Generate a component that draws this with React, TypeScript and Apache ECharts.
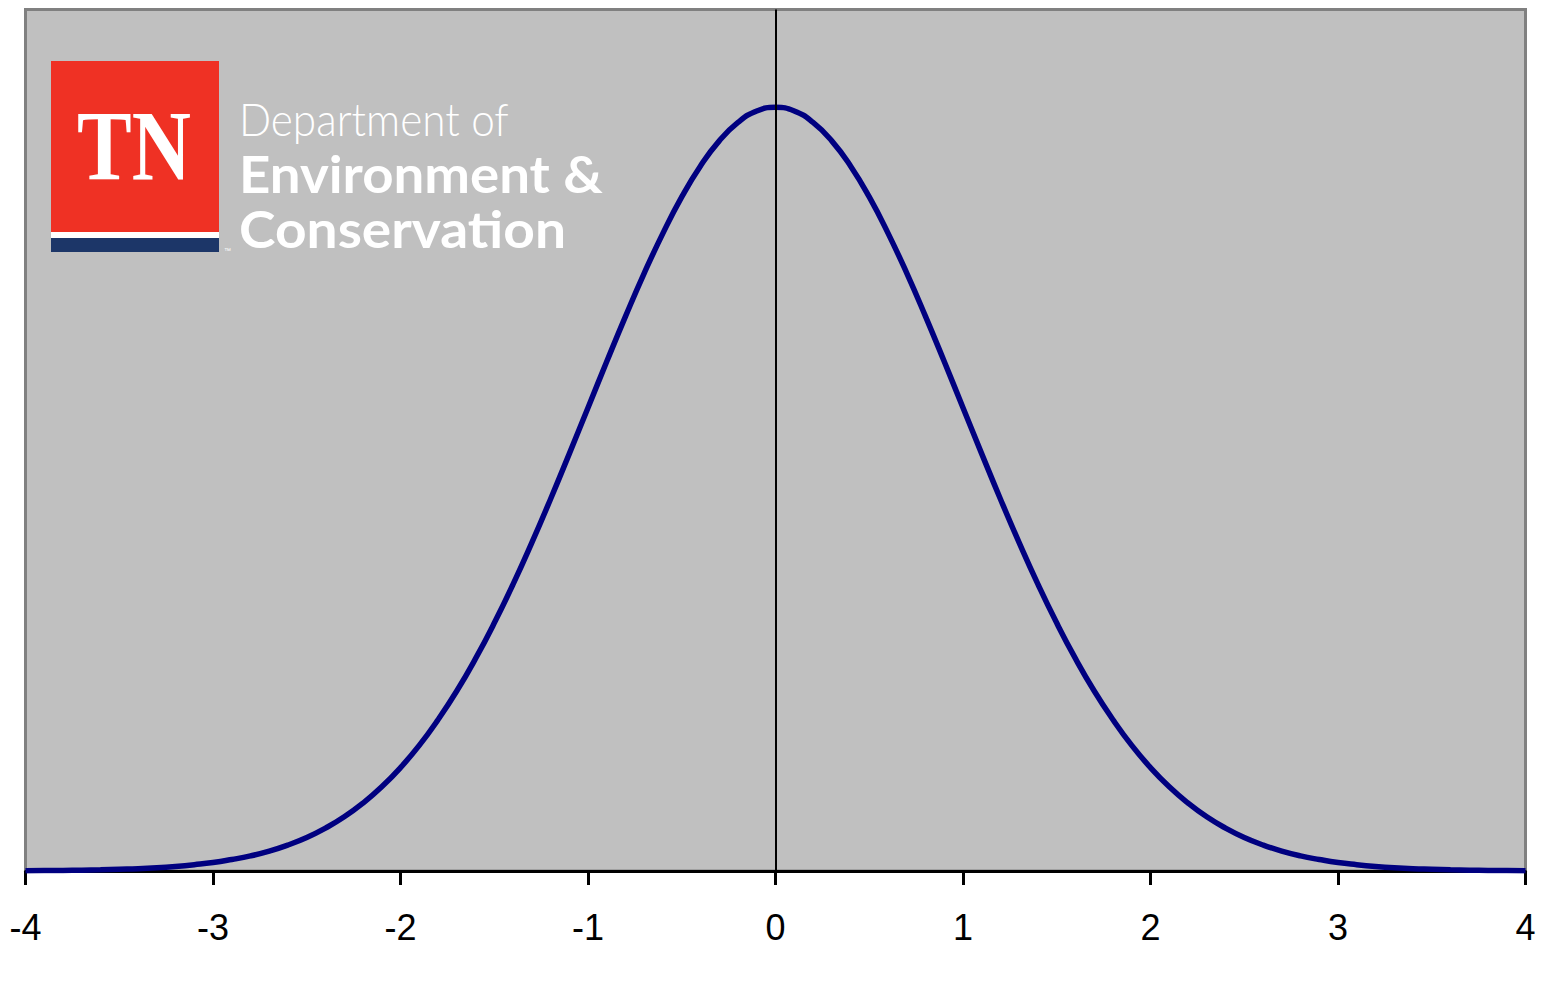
import React, { useEffect, useRef } from "react";
import * as echarts from "echarts";

const xValues = [
  -4.0, -3.9, -3.8, -3.7, -3.6, -3.5, -3.4, -3.3, -3.2, -3.1,
  -3.0, -2.9, -2.8, -2.7, -2.6, -2.5, -2.4, -2.3, -2.2, -2.1,
  -2.0, -1.9, -1.8, -1.7, -1.6, -1.5, -1.4, -1.3, -1.2, -1.1,
  -1.0, -0.9, -0.8, -0.7, -0.6, -0.5, -0.4, -0.3, -0.2, -0.1,
  0.0, 0.1, 0.2, 0.3, 0.4, 0.5, 0.6, 0.7, 0.8, 0.9,
  1.0, 1.1, 1.2, 1.3, 1.4, 1.5, 1.6, 1.7, 1.8, 1.9,
  2.0, 2.1, 2.2, 2.3, 2.4, 2.5, 2.6, 2.7, 2.8, 2.9,
  3.0, 3.1, 3.2, 3.3, 3.4, 3.5, 3.6, 3.7, 3.8, 3.9, 4.0,
];

const densityValues = [
  0.0001, 0.0002, 0.0003, 0.0004, 0.0006, 0.0009, 0.0012, 0.0017, 0.0024, 0.0033,
  0.0044, 0.006, 0.0079, 0.0104, 0.0136, 0.0175, 0.0224, 0.0283, 0.0355, 0.044,
  0.054, 0.0656, 0.079, 0.094, 0.1109, 0.1295, 0.1497, 0.1714, 0.1942, 0.2179,
  0.242, 0.2661, 0.2897, 0.3123, 0.3332, 0.3521, 0.3683, 0.3814, 0.391, 0.397,
  0.3989, 0.397, 0.391, 0.3814, 0.3683, 0.3521, 0.3332, 0.3123, 0.2897, 0.2661,
  0.242, 0.2179, 0.1942, 0.1714, 0.1497, 0.1295, 0.1109, 0.094, 0.079, 0.0656,
  0.054, 0.044, 0.0355, 0.0283, 0.0224, 0.0175, 0.0136, 0.0104, 0.0079, 0.006,
  0.0044, 0.0033, 0.0024, 0.0017, 0.0012, 0.0009, 0.0006, 0.0004, 0.0003, 0.0002, 0.0001,
];

const xTicks = { min: -4, max: 4, step: 1 };
const logoLines = ["Department of", "Environment &", "Conservation"];

export default function App() {
  const ref = useRef<HTMLDivElement>(null);

  useEffect(() => {
    if (!ref.current) return;
    const chart = echarts.init(ref.current, null, { renderer: "svg" });
    const data = xValues.map((x, i) => [x, densityValues[i]]);
    chart.setOption({
      animation: false,
      grid: {
        left: 25.5,
        right: 25.5,
        top: 9.5,
        bottom: 123,
        show: true,
        backgroundColor: "#c0c0c0",
        borderColor: "#808080",
        borderWidth: 3,
      },
      xAxis: {
        type: "value",
        min: xTicks.min,
        max: xTicks.max,
        interval: xTicks.step,
        splitLine: { show: false },
        axisLine: { show: true, onZero: false, lineStyle: { color: "#000", width: 3 } },
        axisTick: { show: true, length: 14, lineStyle: { color: "#000", width: 3 } },
        axisLabel: {
          color: "#000",
          fontSize: 36,
          fontFamily: "Liberation Sans, Arial, sans-serif",
          margin: 38,
        },
      },
      yAxis: {
        type: "value",
        min: 0,
        max: 0.45,
        show: false,
        splitLine: { show: false },
      },
      series: [
        {
          type: "line",
          data,
          smooth: true,
          showSymbol: false,
          symbol: "none",
          lineStyle: { color: "#000080", width: 5.5 },
          z: 2,
        },
        {
          type: "line",
          data: [],
          z: 5,
          markLine: {
            silent: true,
            symbol: ["none", "none"],
            label: { show: false },
            lineStyle: { color: "#000", width: 2, type: "solid" },
            data: [{ xAxis: 0 }],
            z: 5,
          },
        },
      ],
      graphic: [
        { type: "rect", shape: { x: 51, y: 61, width: 168, height: 171 }, style: { fill: "#ef3124" }, z: 10 },
        { type: "rect", shape: { x: 51, y: 232, width: 168, height: 6 }, style: { fill: "#ffffff" }, z: 10 },
        { type: "rect", shape: { x: 51, y: 238, width: 168, height: 14 }, style: { fill: "#1c3668" }, z: 10 },
        {
          type: "text",
          x: 134,
          y: 146,
          scaleX: 0.82,
          z: 11,
          style: {
            text: "TN",
            fill: "#fff",
            font: "bold 100px 'Liberation Serif', serif",
            align: "center",
            verticalAlign: "middle",
          },
        },
        {
          type: "text",
          x: 224,
          y: 250,
          z: 11,
          style: { text: "™", fill: "#fff", font: "7px sans-serif", align: "left", verticalAlign: "middle" },
        },
        {
          type: "text",
          x: 239,
          y: 118,
          scaleX: 0.94,
          z: 11,
          style: {
            text: logoLines[0],
            fill: "#fff",
            font: "300 45px Lato, sans-serif",
            lineHeight: 40,
            align: "left",
            verticalAlign: "middle",
          },
        },
        {
          type: "text",
          x: 239,
          y: 173,
          scaleX: 1.05,
          z: 11,
          style: {
            text: logoLines[1],
            fill: "#fff",
            font: "bold 52px Lato, sans-serif",
            lineHeight: 44,
            align: "left",
            verticalAlign: "middle",
          },
        },
        {
          type: "text",
          x: 239,
          y: 228,
          scaleX: 1.06,
          z: 11,
          style: {
            text: logoLines[2],
            fill: "#fff",
            font: "bold 52px Lato, sans-serif",
            lineHeight: 44,
            align: "left",
            verticalAlign: "middle",
          },
        },
      ],
    });
    return () => chart.dispose();
  }, []);

  return (
    <div
      ref={ref}
      style={{ position: "absolute", left: 0, top: 0, width: 1551, height: 994 }}
    />
  );
}
